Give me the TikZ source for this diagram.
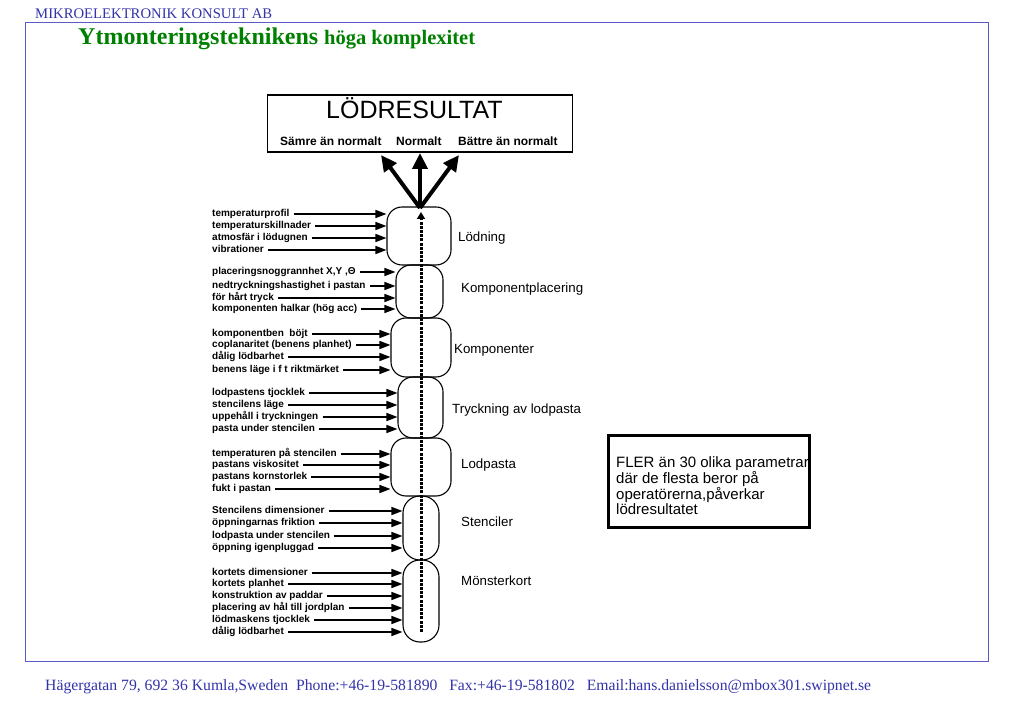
\documentclass[tikz,border=0pt]{standalone}
\usepackage{fontspec}
\setmainfont{Liberation Serif}
\newfontfamily\arial{Liberation Sans}
\usetikzlibrary{arrows.meta}
\definecolor{hdrblue}{RGB}{51,51,170}
\definecolor{frameblue}{RGB}{90,90,200}
\definecolor{titlegreen}{RGB}{0,128,0}
\begin{document}
\begin{tikzpicture}[x=1pt,y=-1pt,
  lbl/.style={anchor=west,inner sep=0pt,font=\arial\bfseries\fontsize{10}{11}\selectfont,text height=7pt,text depth=2pt},
  stage/.style={draw,line width=1.1pt,rounded corners=15pt,inner sep=0pt},
  stagelbl/.style={anchor=west,inner sep=0pt,font=\arial\fontsize{13.3}{15}\selectfont},
  parrow/.style={line width=1.4pt,-{Triangle[length=11pt,width=8pt]}},
  bigarrow/.style={line width=4pt,-{Triangle[length=16pt,width=15pt]}},
  dashline/.style={line width=3pt,dash pattern=on 3pt off 1.2pt,-{Triangle[length=7pt,width=8pt]}}]
\useasboundingbox (0,0) rectangle (1023,708);
\fill[white] (0,0) rectangle (1023,708);
% frame and header/footer
\draw[frameblue,line width=1pt] (25,23) rectangle (988,661);
\node[anchor=base west,inner sep=0pt,text=hdrblue,font=\fontsize{14.7}{16}\selectfont] (hdr) at (35,18.5) {MIKROELEKTRONIK KONSULT AB};
\node[anchor=base west,inner sep=0pt,text=titlegreen,font=\bfseries] (title) at (78,45)
  {{\fontsize{24}{26}\selectfont Ytmonteringsteknikens }{\fontsize{20.5}{22}\selectfont höga komplexitet}};
\node[anchor=base west,inner sep=0pt,text=hdrblue,font=\fontsize{15.7}{17}\selectfont] (ftr) at (45,690)
  {Hägergatan 79, 692 36 Kumla,Sweden\ \ Phone:+46-19-581890\ \ \ Fax:+46-19-581802\ \ \ Email:hans.danielsson@mbox301.swipnet.se};
% result box
\node[draw,line width=1.1pt,minimum width=305pt,minimum height=57pt,inner sep=0pt] (res) at (420,123.5) {};
\node[anchor=base west,inner sep=0pt,font=\arial\fontsize{25}{28}\selectfont] (restitle) at (326,119) {LÖDRESULTAT};
\node[anchor=base west,inner sep=0pt,font=\arial\bfseries\fontsize{12}{13}\selectfont] (worse) at (280,146) {Sämre än normalt};
\node[anchor=base west,inner sep=0pt,font=\arial\bfseries\fontsize{12}{13}\selectfont] (normal) at (396,146) {Normalt};
\node[anchor=base west,inner sep=0pt,font=\arial\bfseries\fontsize{12}{13}\selectfont] (better) at (458,146) {Bättre än normalt};
\coordinate (src) at (420,208);
\coordinate (tL) at (381,155);
\coordinate (tM) at (420,153);
\coordinate (tR) at (459,155);
\draw[bigarrow] (src) -- (tL);
\draw[bigarrow] (src) -- (tM);
\draw[bigarrow] (src) -- (tR);
% stages
\node[stage,minimum width=64pt,minimum height=58pt] (s1) at (419,236) {};
\node[stage,minimum width=47pt,minimum height=53pt] (s2) at (419.5,291.5) {};
\node[stage,minimum width=60pt,minimum height=59pt] (s3) at (421,347.5) {};
\node[stage,minimum width=45pt,minimum height=61pt] (s4) at (420.5,407.5) {};
\node[stage,minimum width=60pt,minimum height=58pt] (s5) at (421,467) {};
\node[stage,rounded corners=17pt,minimum width=36pt,minimum height=64pt] (s6) at (421,528) {};
\node[stage,rounded corners=17pt,minimum width=36pt,minimum height=82pt] (s7) at (421,601) {};
\coordinate (dbot) at (421,632);
\coordinate (dtop) at (421,212);
\draw[dashline] (dbot) -- (dtop);
\node[stagelbl] (n1) at (458,238) {Lödning};
\node[stagelbl] (n2) at (461,289) {Komponentplacering};
\node[stagelbl] (n3) at (454,350) {Komponenter};
\node[stagelbl] (n4) at (452,410) {Tryckning av lodpasta};
\node[stagelbl] (n5) at (461,465) {Lodpasta};
\node[stagelbl] (n6) at (461,522) {Stenciler};
\node[stagelbl] (n7) at (461,581) {Mönsterkort};
% parameters
\foreach \name/\y/\txt/\stg in {
  a1/214/temperaturprofil/s1,
  a2/226/temperaturskillnader/s1,
  a3/238/atmosfär i lödugnen/s1,
  a4/250/vibrationer/s1,
  b1/272/{placeringsnoggrannhet X,Y ,Θ}/s2,
  b2/286/nedtryckningshastighet i pastan/s2,
  b3/298/för hårt tryck/s2,
  b4/309/komponenten halkar (hög acc)/s2,
  c1/334/komponentben\ \ böjt/s3,
  c2/345/coplanaritet (benens planhet)/s3,
  c3/357/dålig lödbarhet/s3,
  c4/370/benens läge i f t riktmärket/s3,
  d1/393/lodpastens tjocklek/s4,
  d2/405/stencilens läge/s4,
  d3/417/uppehåll i tryckningen/s4,
  d4/429/pasta under stencilen/s4,
  e1/454/temperaturen på stencilen/s5,
  e2/465/pastans viskositet/s5,
  e3/477/pastans kornstorlek/s5,
  e4/489/fukt i pastan/s5,
  f1/511/Stencilens dimensioner/s6,
  f2/523/öppningarnas friktion/s6,
  f3/536/lodpasta under stencilen/s6,
  f4/548/öppning igenpluggad/s6,
  g1/573/kortets dimensioner/s7,
  g2/584/kortets planhet/s7,
  g3/596/konstruktion av paddar/s7,
  g4/608/placering av hål till jordplan/s7,
  g5/620/lödmaskens tjocklek/s7,
  g6/632/dålig lödbarhet/s7}{
  \node[lbl] (\name) at (212,\y) {\txt};
  \draw[parrow] ([xshift=4pt]\name.east) -- (\name.east -| \stg.west);
}
% note box
\node[draw,line width=3pt,minimum width=201pt,minimum height=91pt,inner sep=0pt] (note) at (708.5,481.5) {};
\node[anchor=north west,inner sep=0pt,align=left,font=\arial\fontsize{15}{15}\selectfont] (notetext) at (616,456)
  {FLER än 30 olika parametrar\\där de flesta beror på\\operatörerna,påverkar\\lödresultatet};
\end{tikzpicture}
\end{document}
